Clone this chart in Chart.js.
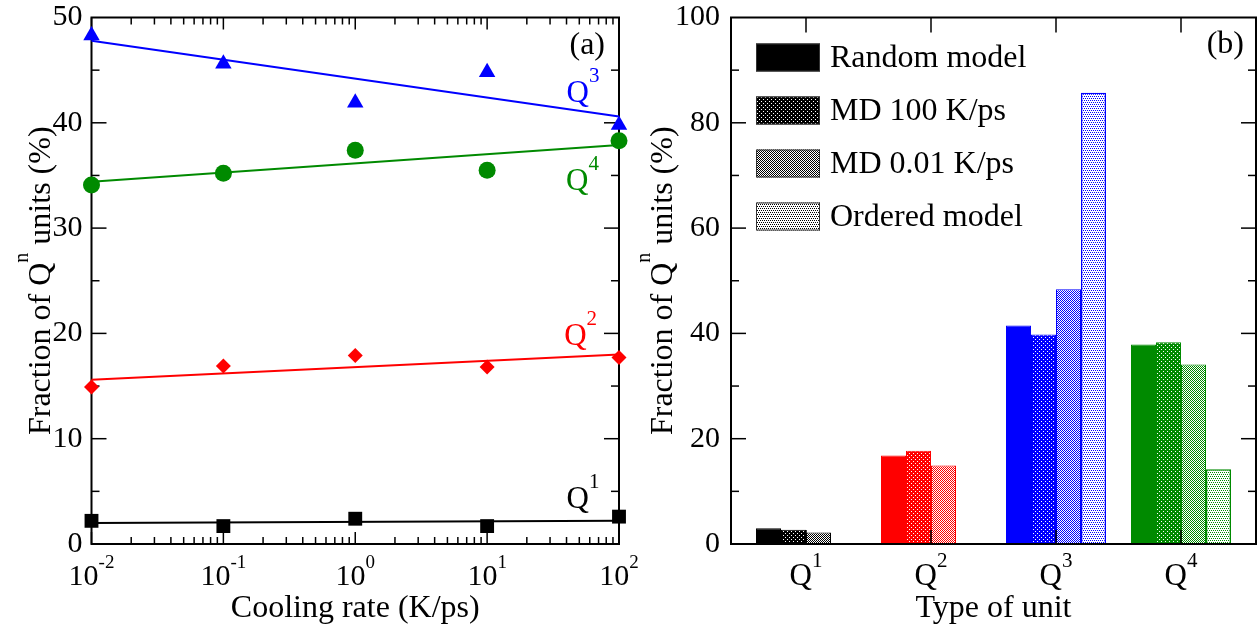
<!DOCTYPE html>
<html>
<head>
<meta charset="utf-8">
<script src="https://cdn.jsdelivr.net/npm/chart.js@4.4.0/dist/chart.umd.min.js"></script>
<style>
html, body { margin: 0; padding: 0; background: #fff; }
#wrap { position: relative; width: 1257px; height: 632px; }
canvas { position: absolute; top: 0; }
</style>
</head>
<body>
<div id="wrap">
  <canvas id="rateChart" width="640" height="632" style="left:0"></canvas>
  <canvas id="unitChart" width="617" height="632" style="left:640px"></canvas>
</div>
<script>
// (a) fraction of Qn units vs cooling rate
const rates = [0.01, 0.1, 1, 10, 100]
const q1 = [2.2, 1.7, 2.4, 1.7, 2.6]
const q2 = [14.9, 16.9, 17.9, 16.8, 17.7]
const q3 = [48.3, 45.6, 41.9, 44.8, 39.8]
const q4 = [34.1, 35.2, 37.4, 35.5, 38.3]
// straight fits (in log rate), values at both ends
const fitRates = [0.01, 100]
const q1Fit = [2.0, 2.2]
const q2Fit = [15.6, 18.0]
const q3Fit = [47.8, 40.6]
const q4Fit = [34.4, 37.9]
const rateExp = ['-2', '-1', '0', '1', '2']

// (b) fraction per type of unit
const unitSup = ['1', '2', '3', '4']
const randomModel = [3.0, 16.8, 41.5, 37.9]
const md100 = [2.7, 17.7, 39.8, 38.3]
const md001 = [2.2, 14.9, 48.4, 34.1]
const orderedModel = [0, 0, 85.7, 14.2]
const seriesNames = ['Random model', 'MD 100 K/ps', 'MD 0.01 K/ps', 'Ordered model']

const BLACK = '#000000', RED = '#ff0000', BLUE = '#0000ff', GREEN = '#008a00'
const unitColors = [BLACK, RED, BLUE, GREEN]
const FONT = '"Liberation Serif", "Times New Roman", serif'

Chart.defaults.font.family = FONT
Chart.defaults.color = '#000'

function pts(xs, ys) {
  return xs.map((x, i) => ({ x: x, y: ys[i] }))
}

// text with superscripts: parts = [[text, size, rise], ...]
function richText(ctx, parts, x, y, align) {
  let total = 0
  parts.forEach(p => {
    ctx.font = p[1] + 'px ' + FONT
    p.w = ctx.measureText(p[0]).width
    total += p.w
  })
  let cx = align === 'center' ? x - total / 2 : x
  ctx.textAlign = 'left'
  ctx.textBaseline = 'alphabetic'
  parts.forEach(p => {
    ctx.font = p[1] + 'px ' + FONT
    ctx.fillText(p[0], cx, y - p[2])
    cx += p.w
  })
}

function tick(ctx, x1, y1, x2, y2) {
  ctx.beginPath()
  ctx.moveTo(x1, y1)
  ctx.lineTo(x2, y2)
  ctx.stroke()
}

function yTitle(ctx, x, y) {
  ctx.save()
  ctx.translate(x, y)
  ctx.rotate(-Math.PI / 2)
  richText(ctx, [['Fraction of Q', 32, 0], ['n', 20, 22], [' units (%)', 32, 0]], 0, 0, 'center')
  ctx.restore()
}

// fill patterns for the bars
function pattern(color, kind) {
  if (kind === 'solid') return color
  const c = document.createElement('canvas')
  c.width = 4
  c.height = 4
  const g = c.getContext('2d')
  g.fillStyle = kind === 'dots' ? color : '#fff'
  g.fillRect(0, 0, 4, 4)
  if (kind === 'dots') {
    g.fillStyle = '#fff'
    g.fillRect(1, 1, 1, 1)
    g.fillRect(3, 3, 1, 1)
  } else if (kind === 'fine') {
    g.fillStyle = color
    for (let i = 0; i < 4; i++)
      for (let j = 0; j < 4; j++)
        if ((i + j) % 2 === 0) g.fillRect(i, j, 1, 1)
  } else {
    g.fillStyle = color
    g.fillRect(0, 0, 1, 1)
    g.fillRect(2, 0, 1, 1)
    g.fillRect(1, 2, 1, 1)
    g.fillRect(3, 2, 1, 1)
  }
  return g.createPattern(c, 'repeat')
}
const kinds = ['solid', 'dots', 'fine', 'sparse']

// ---------- chart (a) ----------
const frameA = {
  id: 'frameA',
  beforeDatasetsDraw(chart) {
    const { ctx, chartArea: a, scales: { x, y } } = chart
    ctx.save()
    ctx.strokeStyle = '#000'
    ctx.lineWidth = 2
    ctx.strokeRect(a.left, a.top, a.right - a.left, a.bottom - a.top)
    ctx.lineWidth = 1.5
    for (let e = -2; e <= 2; e++) {
      for (let m = 1; m <= 9; m++) {
        const v = m * Math.pow(10, e)
        if (v > 100) break
        const px = x.getPixelForValue(v)
        const len = m === 1 ? 12 : 7
        tick(ctx, px, a.bottom, px, a.bottom - len)
        tick(ctx, px, a.top, px, a.top + len)
      }
    }
    for (let v = 5; v < 50; v += 5) {
      const py = y.getPixelForValue(v)
      const len = v % 10 === 0 ? 15 : 8
      tick(ctx, a.left, py, a.left + len, py)
      tick(ctx, a.right, py, a.right - len, py)
    }
    ctx.restore()
  },
  afterDraw(chart) {
    const { ctx, chartArea: a, scales: { x, y } } = chart
    ctx.save()
    ctx.fillStyle = '#000'
    rateExp.forEach(e => {
      richText(ctx, [['10', 30, 0], [e, 19, 17]], x.getPixelForValue(Math.pow(10, +e)), 585, 'center')
    })
    yTitle(ctx, 50, (a.top + a.bottom) / 2)
    ctx.font = '32px ' + FONT
    ctx.textAlign = 'right'
    ctx.fillText('(a)', a.right - 14, a.top + 36)
    const tags = [['3', BLUE, 40, 42.0], ['4', GREEN, 39.7, 33.6], ['2', RED, 38.4, 18.9], ['1', BLACK, 40, 3.4]]
    tags.forEach(t => {
      ctx.fillStyle = t[1]
      richText(ctx, [['Q', 31, 0], [t[0], 21, 20]], x.getPixelForValue(t[2]), y.getPixelForValue(t[3]), 'left')
    })
    ctx.restore()
  }
}

function markers(ys, color, style, r) {
  return { data: pts(rates, ys), showLine: false, pointStyle: style, pointRadius: r,
    pointBackgroundColor: color, pointBorderColor: color, pointBorderWidth: 0, clip: false }
}
function fit(ys, color) {
  return { data: pts(fitRates, ys), borderColor: color, borderWidth: 2, pointRadius: 0, clip: false }
}

new Chart(document.getElementById('rateChart'), {
  type: 'line',
  data: {
    datasets: [
      markers(q3, BLUE, 'triangle', 9.5),
      markers(q4, GREEN, 'circle', 8.5),
      markers(q2, RED, 'rectRot', 7.5),
      markers(q1, BLACK, 'rect', 9.8),
      fit(q3Fit, BLUE),
      fit(q4Fit, GREEN),
      fit(q2Fit, RED),
      fit(q1Fit, BLACK),
    ],
  },
  options: {
    responsive: false,
    animation: false,
    layout: { padding: { top: 17.5, right: 21, left: 0, bottom: 0 } },
    plugins: { legend: { display: false }, tooltip: { enabled: false } },
    scales: {
      x: {
        type: 'logarithmic', min: 0.01, max: 100,
        ticks: { display: false },
        grid: { display: false, drawTicks: false },
        border: { display: false },
        title: { display: true, text: 'Cooling rate (K/ps)', font: { size: 32 }, padding: { top: 0, bottom: 4 } },
        afterFit(s) { s.height = 88 },
      },
      y: {
        min: 0, max: 50,
        ticks: { stepSize: 10, font: { size: 30 }, padding: 9 },
        grid: { display: false, drawTicks: false },
        border: { display: false },
        afterFit(s) { s.width = 91.5; s.paddingTop = 0; s.paddingBottom = 0 },
      },
    },
  },
  plugins: [frameA],
})

// ---------- chart (b) ----------
const frameB = {
  id: 'frameB',
  afterDatasetsDraw(chart) {
    const { ctx, chartArea: a, scales: { x, y } } = chart
    ctx.save()
    ctx.strokeStyle = '#000'
    ctx.lineWidth = 2
    ctx.strokeRect(a.left, a.top, a.right - a.left, a.bottom - a.top)
    ctx.lineWidth = 1.5
    for (let i = 1; i <= 4; i++) {
      const px = x.getPixelForValue(i)
      tick(ctx, px, a.bottom, px, a.bottom - 14)
      tick(ctx, px, a.top, px, a.top + 15)
    }
    for (let v = 10; v < 100; v += 10) {
      const py = y.getPixelForValue(v)
      const len = v % 20 === 0 ? 15 : 8
      tick(ctx, a.left, py, a.left + len, py)
      tick(ctx, a.right, py, a.right - len, py)
    }
    ctx.restore()
  },
  afterDraw(chart) {
    const { ctx, chartArea: a, scales: { x } } = chart
    ctx.save()
    ctx.fillStyle = '#000'
    unitSup.forEach((s, i) => {
      richText(ctx, [['Q', 31, 0], [s, 21, 18]], x.getPixelForValue(i + 1), 585, 'center')
    })
    yTitle(ctx, 32, (a.top + a.bottom) / 2)
    ctx.font = '32px ' + FONT
    ctx.textAlign = 'right'
    ctx.fillText('(b)', a.right - 12, a.top + 35)
    // legend
    chart.data.datasets.forEach((ds, i) => {
      const bx = a.left + 25, by = a.top + 26 + i * 53
      ctx.fillStyle = pattern(BLACK, kinds[i])
      ctx.fillRect(bx, by, 64, 28)
      ctx.strokeStyle = '#333'
      ctx.lineWidth = 1
      ctx.strokeRect(bx + 0.5, by + 0.5, 63, 27)
      ctx.fillStyle = '#000'
      ctx.font = '32px ' + FONT
      ctx.textAlign = 'left'
      ctx.textBaseline = 'middle'
      ctx.fillText(ds.label, bx + 74, by + 15)
    })
    ctx.restore()
  }
}

const unitX = [1, 2, 3, 4]
function barSet(i, ys) {
  return {
    label: seriesNames[i],
    data: pts(unitX, ys),
    backgroundColor: unitColors.map(c => pattern(c, kinds[i])),
    borderColor: unitColors,
    borderWidth: i === 3 ? 1.5 : 1,
  }
}

new Chart(document.getElementById('unitChart'), {
  type: 'bar',
  data: {
    datasets: [
      barSet(0, randomModel),
      barSet(1, md100),
      barSet(2, md001),
      barSet(3, orderedModel),
    ],
  },
  options: {
    responsive: false,
    animation: false,
    layout: { padding: { top: 17.5, right: 1, left: 0, bottom: 0 } },
    datasets: { bar: { categoryPercentage: 0.8, barPercentage: 1.0 } },
    plugins: { legend: { display: false }, tooltip: { enabled: false } },
    scales: {
      x: {
        type: 'linear', min: 0.4, max: 4.6, offset: false,
        ticks: { display: false, stepSize: 1, includeBounds: false },
        grid: { display: false, drawTicks: false },
        border: { display: false },
        title: { display: true, text: 'Type of unit', font: { size: 32 }, padding: { top: 0, bottom: 4 } },
        afterFit(s) { s.height = 88 },
      },
      y: {
        min: 0, max: 100,
        ticks: { stepSize: 20, font: { size: 30 }, padding: 11 },
        grid: { display: false, drawTicks: false },
        border: { display: false },
        afterFit(s) { s.width = 91; s.paddingTop = 0; s.paddingBottom = 0 },
      },
    },
  },
  plugins: [frameB],
})
</script>
</body>
</html>
